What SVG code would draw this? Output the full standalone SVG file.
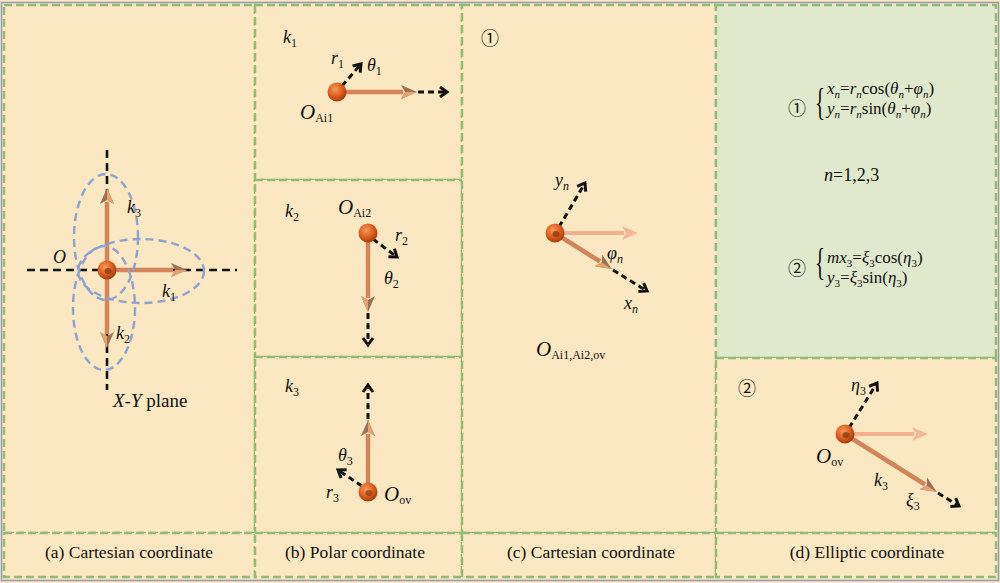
<svg xmlns="http://www.w3.org/2000/svg" width="1000" height="583" viewBox="0 0 1000 583" font-family="'Liberation Serif', 'DejaVu Serif', serif">
<defs>
<style>
.cell{fill:#FBE7C2;stroke:#91BB76;stroke-width:2.4;stroke-dasharray:8 4}
.green{fill:#E0E9CB}
.axis{stroke:#111;stroke-width:2.6;stroke-dasharray:8 5;fill:none}
.ell{fill:none;stroke:#8EA3CF;stroke-width:2.4;stroke-dasharray:8 5}
.oar{stroke:#D2845A;stroke-width:4.5;fill:none;marker-end:url(#ohead)}
.lar{stroke:#F1B18E;stroke-width:4;fill:none;marker-end:url(#lhead)}
.dar{stroke:#111;stroke-width:3;stroke-dasharray:6 4;fill:none;marker-end:url(#chev)}
text{fill:#111}
.lbl{font-size:18px}
.i{font-style:italic}
.cap{font-size:17.5px;text-anchor:middle}
.circ{font-family:'Noto Sans CJK SC','DejaVu Serif',sans-serif;font-size:18px}
</style>
<radialGradient id="ball" cx="0.4" cy="0.35" r="0.7">
<stop offset="0" stop-color="#F79A5A"/>
<stop offset="0.55" stop-color="#DC5E1C"/>
<stop offset="1" stop-color="#9A380B"/>
</radialGradient>
<marker id="ohead" markerUnits="userSpaceOnUse" markerWidth="18" markerHeight="14" refX="2" refY="7" orient="auto" overflow="visible">
<path d="M0,0 L16,7 L0,14 L4,7 z" fill="#9B7257"/>
<path d="M4,7 L16,7 L0,14 z" fill="#E8A070"/>
</marker>
<marker id="lhead" markerUnits="userSpaceOnUse" markerWidth="18" markerHeight="14" refX="2" refY="7" orient="auto" overflow="visible">
<path d="M0,0 L16,7 L0,14 L4,7 z" fill="#F3B797"/>
</marker>
<marker id="chev" markerUnits="userSpaceOnUse" markerWidth="12" markerHeight="12" refX="8" refY="5" orient="auto" overflow="visible">
<path d="M1,0 L8,5 L1,10" fill="none" stroke="#111" stroke-width="3"/>
</marker>
</defs>
<rect x="0" y="0" width="1000" height="583" fill="#FBE7C2"/>
<rect x="1.5" y="2.5" width="997" height="578" fill="none" stroke="#8E9DB2" stroke-width="1.5"/>

<g id="frames">
<rect class="cell" x="4" y="5" width="251" height="528"/>
<rect class="cell" x="255" y="5" width="207" height="175"/>
<rect class="cell" x="255" y="180" width="207" height="177"/>
<rect class="cell" x="255" y="357" width="207" height="176"/>
<rect class="cell" x="462" y="5" width="254" height="528"/>
<rect class="cell green" x="716" y="5" width="280" height="353"/>
<rect class="cell" x="716" y="358" width="280" height="175"/>
<rect class="cell" x="4" y="533" width="251" height="44"/>
<rect class="cell" x="255" y="533" width="207" height="44"/>
<rect class="cell" x="462" y="533" width="254" height="44"/>
<rect class="cell" x="716" y="533" width="280" height="44"/>
</g>

<g id="connectors">
<line class="axis" x1="107" y1="150" x2="107" y2="390"/>
<line class="axis" x1="27" y1="270" x2="237" y2="270"/>
<line class="oar" x1="107" y1="264" x2="107" y2="202"/>
<line class="oar" x1="113" y1="270" x2="173" y2="270"/>
<line class="oar" x1="107" y1="276" x2="107" y2="334"/>
<line class="oar" x1="344" y1="92" x2="403" y2="92"/>
<line class="dar" x1="418" y1="92" x2="447" y2="92"/>
<line class="dar" x1="342" y1="86" x2="361" y2="64"/>
<line class="oar" x1="368" y1="240" x2="368" y2="298"/>
<line class="dar" x1="368" y1="313" x2="368" y2="345"/>
<line class="dar" x1="373" y1="239" x2="397" y2="257"/>
<line class="oar" x1="368" y1="485" x2="368" y2="434"/>
<line class="dar" x1="368" y1="419" x2="368" y2="385"/>
<line class="dar" x1="362" y1="486" x2="338" y2="470"/>
<line class="lar" x1="562" y1="233" x2="624" y2="233"/>
<line class="oar" x1="561" y1="237" x2="600" y2="261.5"/>
<line class="dar" x1="613" y1="270" x2="647" y2="291"/>
<line class="dar" x1="559" y1="227" x2="585" y2="183"/>
<line class="lar" x1="852" y1="434" x2="914" y2="434"/>
<line class="oar" x1="851" y1="438" x2="925" y2="484.5"/>
<line class="dar" x1="938" y1="493" x2="959" y2="506"/>
<line class="dar" x1="849" y1="428" x2="877" y2="383"/>
</g>

<g id="panel-a">
<ellipse class="ell" cx="106" cy="237" rx="32" ry="63"/>
<ellipse class="ell" cx="104" cy="308" rx="31" ry="62"/>
<ellipse class="ell" cx="141" cy="271" rx="63" ry="32"/>
<circle cx="107" cy="270" r="9.5" fill="url(#ball)"/>
<ellipse cx="108" cy="271" rx="3.5" ry="3" fill="#6E2A0C" opacity="0.6"/>
<text class="lbl i" x="53" y="263">O</text>
<text class="lbl" x="127" y="213"><tspan class="i">k</tspan><tspan font-size="12" dy="4">3</tspan></text>
<text class="lbl" x="162" y="297"><tspan class="i">k</tspan><tspan font-size="12" dy="4">1</tspan></text>
<text class="lbl" x="116" y="339"><tspan class="i">k</tspan><tspan font-size="12" dy="4">2</tspan></text>
<text x="113" y="407" font-size="19"><tspan class="i">X</tspan>-<tspan class="i">Y</tspan> plane</text>
</g>

<g id="panel-b1">
<text class="lbl" x="283" y="43"><tspan class="i">k</tspan><tspan font-size="12" dy="4">1</tspan></text>
<circle cx="337" cy="92" r="9.5" fill="url(#ball)"/>
<text class="lbl" x="331" y="64"><tspan class="i">r</tspan><tspan font-size="12" dy="4">1</tspan></text>
<text class="lbl" x="367" y="71"><tspan class="i">θ</tspan><tspan font-size="12" dy="4">1</tspan></text>
<text x="300" y="119" font-size="21"><tspan class="i">O</tspan><tspan font-size="12" dy="3">Ai1</tspan></text>
</g>

<g id="panel-b2">
<text class="lbl" x="285" y="217"><tspan class="i">k</tspan><tspan font-size="12" dy="4">2</tspan></text>
<text x="338" y="214" font-size="21"><tspan class="i">O</tspan><tspan font-size="12" dy="3">Ai2</tspan></text>
<circle cx="368" cy="233" r="9.5" fill="url(#ball)"/>
<text class="lbl" x="395" y="241"><tspan class="i">r</tspan><tspan font-size="12" dy="4">2</tspan></text>
<text class="lbl" x="384" y="284"><tspan class="i">θ</tspan><tspan font-size="12" dy="4">2</tspan></text>
</g>

<g id="panel-b3">
<text class="lbl" x="285" y="392"><tspan class="i">k</tspan><tspan font-size="12" dy="4">3</tspan></text>
<circle cx="368" cy="492" r="9.5" fill="url(#ball)"/>
<ellipse cx="369" cy="493" rx="3.5" ry="3" fill="#6E2A0C" opacity="0.5"/>
<text class="lbl" x="338" y="461"><tspan class="i">θ</tspan><tspan font-size="12" dy="4">3</tspan></text>
<text class="lbl" x="326" y="498"><tspan class="i">r</tspan><tspan font-size="12" dy="4">3</tspan></text>
<text x="384" y="501" font-size="21"><tspan class="i">O</tspan><tspan font-size="12" dy="3">ov</tspan></text>
</g>

<g id="panel-c">
<text class="circ" x="481" y="45">①</text>
<circle cx="555" cy="233" r="9.5" fill="url(#ball)"/>
<ellipse cx="556" cy="234" rx="3.5" ry="3" fill="#6E2A0C" opacity="0.6"/>
<text class="lbl" x="555" y="186"><tspan class="i">y</tspan><tspan class="i" font-size="12" dy="4">n</tspan></text>
<text class="lbl" x="607" y="259"><tspan class="i">φ</tspan><tspan class="i" font-size="12" dy="4">n</tspan></text>
<text class="lbl" x="624" y="309"><tspan class="i">x</tspan><tspan class="i" font-size="12" dy="4">n</tspan></text>
<text x="536" y="356" font-size="21"><tspan class="i">O</tspan><tspan font-size="12" dy="3">Ai1,Ai2,ov</tspan></text>
</g>

<g id="panel-d1">
<text class="circ" x="788" y="115">①</text>
<text x="815" y="115" font-size="38" transform="translate(815 0) scale(0.55 1) translate(-815 0)">{</text>
<text x="827" y="94" font-size="17"><tspan class="i">x</tspan><tspan class="i" font-size="11" dy="4">n</tspan><tspan dy="-4">=</tspan><tspan class="i">r</tspan><tspan class="i" font-size="11" dy="4">n</tspan><tspan dy="-4">cos(</tspan><tspan class="i">θ</tspan><tspan class="i" font-size="11" dy="4">n</tspan><tspan dy="-4">+</tspan><tspan class="i">φ</tspan><tspan class="i" font-size="11" dy="4">n</tspan><tspan dy="-4">)</tspan></text>
<text x="827" y="114" font-size="17"><tspan class="i">y</tspan><tspan class="i" font-size="11" dy="4">n</tspan><tspan dy="-4">=</tspan><tspan class="i">r</tspan><tspan class="i" font-size="11" dy="4">n</tspan><tspan dy="-4">sin(</tspan><tspan class="i">θ</tspan><tspan class="i" font-size="11" dy="4">n</tspan><tspan dy="-4">+</tspan><tspan class="i">φ</tspan><tspan class="i" font-size="11" dy="4">n</tspan><tspan dy="-4">)</tspan></text>
<text class="lbl" x="824" y="181"><tspan class="i">n</tspan>=1,2,3</text>
<text class="circ" x="788" y="275">②</text>
<text x="815" y="275" font-size="38" transform="translate(815 0) scale(0.55 1) translate(-815 0)">{</text>
<text x="827" y="263" font-size="17"><tspan class="i">mx</tspan><tspan font-size="11" dy="4">3</tspan><tspan dy="-4">=</tspan><tspan class="i">ξ</tspan><tspan font-size="11" dy="4">3</tspan><tspan dy="-4">cos(</tspan><tspan class="i">η</tspan><tspan font-size="11" dy="4">3</tspan><tspan dy="-4">)</tspan></text>
<text x="827" y="283" font-size="17"><tspan class="i">y</tspan><tspan font-size="11" dy="4">3</tspan><tspan dy="-4">=</tspan><tspan class="i">ξ</tspan><tspan font-size="11" dy="4">3</tspan><tspan dy="-4">sin(</tspan><tspan class="i">η</tspan><tspan font-size="11" dy="4">3</tspan><tspan dy="-4">)</tspan></text>
</g>

<g id="panel-d2">
<text class="circ" x="738" y="395">②</text>
<circle cx="845" cy="434" r="9.5" fill="url(#ball)"/>
<ellipse cx="846" cy="435" rx="3.5" ry="3" fill="#6E2A0C" opacity="0.6"/>
<text class="lbl" x="851" y="391"><tspan class="i">η</tspan><tspan font-size="12" dy="4">3</tspan></text>
<text x="816" y="463" font-size="21"><tspan class="i">O</tspan><tspan font-size="12" dy="3">ov</tspan></text>
<text class="lbl" x="874" y="486"><tspan class="i">k</tspan><tspan font-size="12" dy="4">3</tspan></text>
<text class="lbl" x="906" y="506"><tspan class="i">ξ</tspan><tspan font-size="12" dy="4">3</tspan></text>
</g>

<g id="captions">
<text class="cap" x="129" y="558">(a) Cartesian coordinate</text>
<text class="cap" x="355" y="558">(b) Polar coordinate</text>
<text class="cap" x="591" y="558">(c) Cartesian coordinate</text>
<text class="cap" x="867" y="558">(d) Elliptic coordinate</text>
</g>
</svg>
